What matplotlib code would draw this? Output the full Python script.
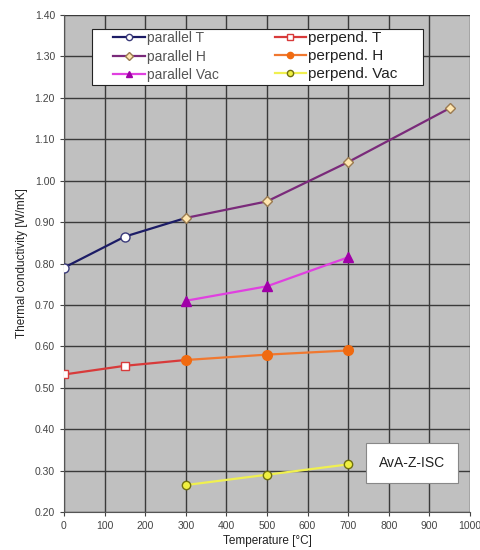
import matplotlib
matplotlib.use("Agg")
import matplotlib.pyplot as plt
from matplotlib.lines import Line2D
from matplotlib.patches import Rectangle

plt.rcParams['font.family'] = ['Liberation Sans', 'DejaVu Sans']

par_T_x = [0, 150, 300]
par_T_y = [0.79, 0.865, 0.91]
par_H_x = [300, 500, 700, 950]
par_H_y = [0.91, 0.95, 1.045, 1.175]
par_V_x = [300, 500, 700]
par_V_y = [0.71, 0.745, 0.815]
per_T_x = [0, 150, 300]
per_T_y = [0.532, 0.553, 0.567]
per_H_x = [300, 500, 700]
per_H_y = [0.567, 0.58, 0.59]
per_V_x = [300, 500, 700]
per_V_y = [0.265, 0.29, 0.315]

labels = ['parallel T', 'parallel H', 'parallel Vac', 'perpend. T', 'perpend. H', 'perpend. Vac']
xticks = list(range(0, 1001, 100))
yticks = [0.20, 0.30, 0.40, 0.50, 0.60, 0.70, 0.80, 0.90, 1.00, 1.10, 1.20, 1.30, 1.40]

W, H = 481, 550
L, R, T, B = 64, 470, 15, 512
fig = plt.figure(figsize=(W/100, H/100), dpi=100)
ax = fig.add_axes([L/W, 1 - B/H, (R-L)/W, (B-T)/H])
ax.set_facecolor('#c0c0c0')
ax.set_xlim(0, 1000)
ax.set_ylim(0.2, 1.4)
ax.set_xticks(xticks)
ax.set_yticks(yticks)
ax.set_yticklabels([f"{v:.2f}" for v in yticks])
ax.grid(True, color='#3a3a3a', linewidth=1.0)
ax.set_axisbelow(True)
for s in ['top', 'right']:
    ax.spines[s].set_visible(False)
for s in ['left', 'bottom']:
    ax.spines[s].set_color('#555555')
ax.tick_params(labelsize=7.5, colors='#444444', length=3)

styles = [
    dict(color='#1c1c66', marker='o', ms=6.5, mfc='white', mec='#3a3a7a', mew=1.0),
    dict(color='#7a2a7a', marker='D', ms=5.5, mfc='#ffe6b0', mec='#9a7a50', mew=1.0),
    dict(color='#e040e0', marker='^', ms=7.5, mfc='#a000a8', mec='#a000a8', mew=1.0),
    dict(color='#d83a3a', marker='s', ms=6, mfc='white', mec='#d83a3a', mew=1.0),
    dict(color='#f07830', marker='o', ms=7, mfc='#f06a10', mec='#f06a10', mew=1.0),
    dict(color='#f0f050', marker='o', ms=6, mfc='#f0f040', mec='#707010', mew=1.0),
]

ax.plot(par_T_x, par_T_y, lw=1.6, markevery=[0, 1], zorder=3, **styles[0])
ax.plot(par_H_x, par_H_y, lw=1.6, zorder=4, **styles[1])
ax.plot(par_V_x, par_V_y, lw=1.6, zorder=3, **styles[2])
ax.plot(per_T_x, per_T_y, lw=1.6, markevery=[0, 1], zorder=3, **styles[3])
ax.plot(per_H_x, per_H_y, lw=1.6, zorder=4, **styles[4])
ax.plot(per_V_x, per_V_y, lw=1.6, zorder=3, **styles[5])

handles = []
for st, lab in zip(styles, labels):
    d = dict(st)
    d['ms'] = 4.5
    handles.append(Line2D([], [], lw=1.6, label=lab, **d))

def ax_x(px):
    return (px - L) / (R - L)

def ax_y(py):
    return 1 - (py - T) / (B - T)

frame = Rectangle((ax_x(92), ax_y(85)), ax_x(423) - ax_x(92), ax_y(29) - ax_y(85),
                  transform=ax.transAxes, fc='white', ec='#222222', lw=0.8, zorder=9)
ax.add_patch(frame)

leg1 = ax.legend(handles=handles[:3], loc='upper left', bbox_to_anchor=(ax_x(113), ax_y(31)),
                 fontsize=10, frameon=False, borderpad=0, borderaxespad=0,
                 labelspacing=0.33, handlelength=2.3, handletextpad=0.15)
leg1.set_zorder(10)
for t in leg1.get_texts():
    t.set_color('#555555')
ax.add_artist(leg1)

leg2 = ax.legend(handles=handles[3:], loc='upper left', bbox_to_anchor=(ax_x(275), ax_y(31)),
                 fontsize=11, frameon=False, borderpad=0, borderaxespad=0,
                 labelspacing=0.27, handlelength=2.0, handletextpad=0.15)
leg2.set_zorder(10)
for t in leg2.get_texts():
    t.set_color('#222222')

ax.text(ax_x(412), ax_y(463), 'AvA-Z-ISC', transform=ax.transAxes,
        ha='center', va='center', fontsize=10, color='#222222', zorder=10,
        bbox=dict(boxstyle='square,pad=0.95', fc='white', ec='#888888', lw=0.8))

ax.set_xlabel('Temperature [°C]', fontsize=8.5, color='#222222', labelpad=3)
ax.set_ylabel('Thermal conductivity [W/mK]', fontsize=8.5, color='#222222', labelpad=5)

fig.savefig('out.png', dpi=100)
